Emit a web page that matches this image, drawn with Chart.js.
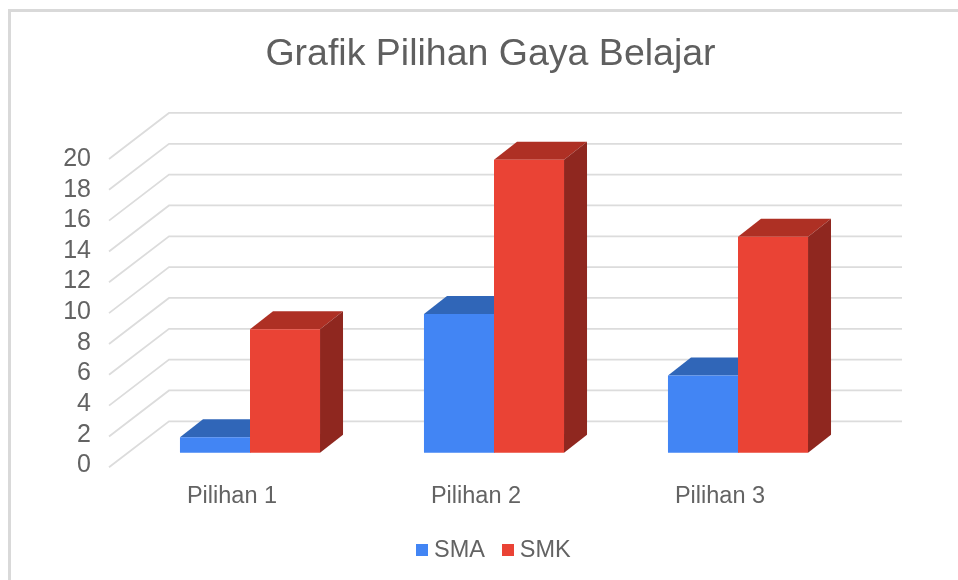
<!DOCTYPE html>
<html>
<head>
<meta charset="utf-8">
<title>Grafik Pilihan Gaya Belajar</title>
<script src="https://cdn.jsdelivr.net/npm/chart.js@4"></script>
<style>
    html, body { margin: 0; padding: 0; background: #fff; overflow: hidden; }
    #frame { position: absolute; left: 8px; top: 9px; width: 950px; height: 571px; border-left: 3px solid #d9d9d9; border-top: 3px solid #d9d9d9; box-sizing: border-box; }
    #wrap { position: absolute; left: 0; top: 0; width: 958px; height: 580px; }
    #chart { filter: blur(0.4px); }
</style>
</head>
<body>
<div id="frame"></div>
<div id="wrap"><canvas id="chart" width="958" height="580"></canvas></div>
<script>
const categories = ['Pilihan 1', 'Pilihan 2', 'Pilihan 3'];
const smaValues = [1, 9, 5];
const smkValues = [8, 19, 14];

const textColor = '#636363';
const fontFamily = '"Liberation Sans", Arial, sans-serif';

// Face colours of the 3D bars
const smaFaces = { front: '#4285f4', top: '#3066b8', side: '#28559c' };
const smkFaces = { front: '#ea4335', top: '#ae3024', side: '#8f271f' };

// Bar depth and the floor/wall depth, in pixels
const barDepth = { x: 23, y: -18 };
const wallDepth = { x: 60, y: 46 };
const wallShift = -31.4; // back wall sits above the plane of the bars
const wallLeft = 169;
const wallRight = 902;
const legendShift = 2;

function makeSwatch(color) {
    const c = document.createElement('canvas');
    c.width = 12;
    c.height = 12;
    const g = c.getContext('2d');
    g.fillStyle = color;
    g.fillRect(0, 0, 12, 12);
    return c;
}

// Grid lines on the back wall and the slanted ones on the side wall
const wallPlugin = {
    id: 'wall',
    beforeDatasetsDraw(chart) {
        const ctx = chart.ctx;
        const bars = chart.scales.bars;
        ctx.save();
        ctx.strokeStyle = '#dcdcdc';
        ctx.lineWidth = 1.8;
        chart.scales.y.ticks.forEach((tick) => {
            const y = bars.getPixelForValue(tick.value) + wallShift;
            ctx.beginPath();
            ctx.moveTo(wallLeft - wallDepth.x, y + wallDepth.y);
            ctx.lineTo(wallLeft, y);
            ctx.lineTo(wallRight, y);
            ctx.stroke();
        });
        ctx.restore();
    },
};

// Top and side faces, the front face is the normal bar drawn over them
const depthPlugin = {
    id: 'depth',
    afterLayout(chart) {
        // Legend is not quite centred in the reference
        chart.legend.left += legendShift;
        chart.legend.right += legendShift;
    },
    beforeDatasetsDraw(chart) {
        const ctx = chart.ctx;
        const faces = [smaFaces, smkFaces];
        chart.data.datasets.forEach((ds, i) => {
            chart.getDatasetMeta(i).data.forEach((bar) => {
                const left = bar.x - bar.width / 2;
                const right = bar.x + bar.width / 2;
                ctx.fillStyle = faces[i].top;
                ctx.beginPath();
                ctx.moveTo(left, bar.y);
                ctx.lineTo(left + barDepth.x, bar.y + barDepth.y);
                ctx.lineTo(right + barDepth.x, bar.y + barDepth.y);
                ctx.lineTo(right, bar.y);
                ctx.closePath();
                ctx.fill();
                ctx.fillStyle = faces[i].side;
                ctx.beginPath();
                ctx.moveTo(right, bar.y);
                ctx.lineTo(right + barDepth.x, bar.y + barDepth.y);
                ctx.lineTo(right + barDepth.x, bar.base + barDepth.y);
                ctx.lineTo(right, bar.base);
                ctx.closePath();
                ctx.fill();
            });
        });
    },
};

const ctx = document.getElementById('chart').getContext('2d');
const chart = new Chart(ctx, {
    type: 'bar',
    data: {
        labels: categories,
        datasets: [
            { label: 'SMA', data: smaValues, backgroundColor: smaFaces.front, yAxisID: 'bars', clip: false },
            { label: 'SMK', data: smkValues, backgroundColor: smkFaces.front, yAxisID: 'bars', clip: false },
        ],
    },
    plugins: [wallPlugin, depthPlugin],
    options: {
        responsive: false,
        animation: false,
        categoryPercentage: 0.574,
        barPercentage: 1,
        layout: { padding: { left: 23, right: 0, top: 32, bottom: 8 } },
        scales: {
            x: {
                grid: { display: false },
                border: { display: false },
                afterFit(scale) { scale.height = 51; },
                ticks: {
                    color: textColor,
                    font: { family: fontFamily, size: 23.5 },
                    labelOffset: -18,
                    padding: 9,
                    maxRotation: 0,
                    autoSkip: false,
                },
            },
            // Scale with the tick labels
            y: {
                position: 'left',
                min: 0,
                max: 20,
                grid: { display: false },
                border: { display: false },
                afterFit(scale) { scale.width = 105; },
                ticks: {
                    stepSize: 2,
                    autoSkip: false,
                    color: textColor,
                    font: { family: fontFamily, size: 25 },
                    padding: 29,
                },
            },
            // Scale of the bars, the labels of the chart do not line up with it exactly
            bars: {
                position: 'right',
                min: -0.83,
                max: 19.05,
                grid: { display: false },
                border: { display: false },
                ticks: { display: false },
                afterFit(scale) { scale.width = 98; },
            },
        },
        plugins: {
            tooltip: { enabled: false },
            title: {
                display: true,
                text: 'Grafik Pilihan Gaya Belajar',
                color: '#5f5f5f',
                font: { family: fontFamily, size: 37.5, weight: 'normal' },
                padding: { top: 0, bottom: 82 },
            },
            legend: {
                position: 'bottom',
                fullSize: false,
                labels: {
                    usePointStyle: true,
                    boxWidth: 1,
                    color: textColor,
                    font: { family: fontFamily, size: 23.5 },
                    padding: 22,
                    generateLabels(c) {
                        return c.data.datasets.map((ds, i) => ({
                            text: ds.label,
                            fontColor: textColor,
                            pointStyle: makeSwatch(ds.backgroundColor),
                            datasetIndex: i,
                        }));
                    },
                },
            },
        },
    },
});
</script>
</body>
</html>
